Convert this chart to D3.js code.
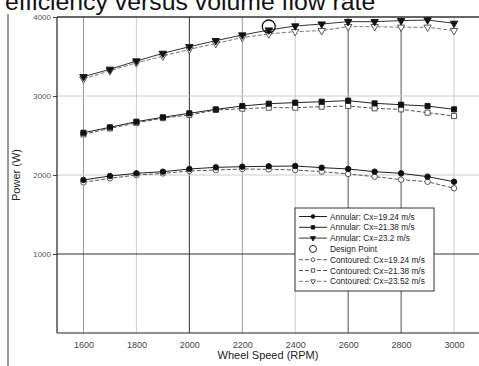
<!DOCTYPE html>
<html>
<head>
<meta charset="utf-8">
<script src="https://cdn.jsdelivr.net/npm/d3@7"></script>
<style>
  body { margin: 0; background: #fff; }
  text { font-family: Arial, "Liberation Sans", sans-serif; }
</style>
</head>
<body>
<script>
"use strict";

// Width and height
let w = 479;
let h = 366;

let speeds = [1600, 1700, 1800, 1900, 2000, 2100, 2200, 2300, 2400, 2500, 2600, 2700, 2800, 2900, 3000];
let annular19 = [1937, 1987, 2021, 2042, 2076, 2097, 2105, 2110, 2114, 2093, 2076, 2042, 2021, 1979, 1915];
let annular21 = [2535, 2604, 2675, 2731, 2781, 2831, 2873, 2903, 2916, 2928, 2941, 2907, 2890, 2873, 2831];
let annular23 = [3244, 3338, 3443, 3540, 3624, 3700, 3772, 3835, 3886, 3911, 3941, 3941, 3954, 3962, 3920];
let contour19 = [1907, 1958, 2000, 2020, 2051, 2063, 2076, 2072, 2063, 2042, 2013, 1979, 1941, 1915, 1832];
let contour21 = [2515, 2590, 2660, 2720, 2759, 2823, 2840, 2852, 2852, 2865, 2873, 2844, 2831, 2789, 2747];
let contour23 = [3215, 3320, 3420, 3505, 3590, 3665, 3740, 3785, 3815, 3827, 3878, 3878, 3870, 3870, 3827];
let designPoint = [2300, 3880];
let xTicks = [1600, 1800, 2000, 2200, 2400, 2600, 2800, 3000];
let yTicks = [1000, 2000, 3000, 4000];

let series = [
    {name: "Annular: Cx=19.24 m/s", values: annular19, marker: "circle", fill: "#111", stroke: "#222", dash: null},
    {name: "Annular: Cx=21.38 m/s", values: annular21, marker: "square", fill: "#111", stroke: "#222", dash: null},
    {name: "Annular: Cx=23.2 m/s", values: annular23, marker: "triangle", fill: "#111", stroke: "#333", dash: null},
    {name: "Contoured: Cx=19.24 m/s", values: contour19, marker: "circle", fill: "#fff", stroke: "#555", dash: "4,2"},
    {name: "Contoured: Cx=21.38 m/s", values: contour21, marker: "square", fill: "#fff", stroke: "#555", dash: "4,2"},
    {name: "Contoured: Cx=23.52 m/s", values: contour23, marker: "triangle", fill: "#fff", stroke: "#777", dash: "4,2"}
];

let svg = d3.select("body").append("svg")
    .attr("width", w)
    .attr("height", h);

// title, cut off at the top of the picture
svg.append("text")
    .attr("x", 5)
    .attr("y", 10)
    .attr("font-size", 24.8)
    .attr("fill", "#111")
    .text("efficiency versus volume flow rate");

// figure border line on the left
svg.append("line")
    .attr("x1", 8).attr("x2", 8)
    .attr("y1", 14).attr("y2", h)
    .attr("stroke", "#333");

let pLeft = 57, pTop = 17, pBottom = 333, pRight = 479;

let x = d3.scaleLinear().domain([1500, 3100]).range([pLeft, 479 + 1.5]);
let y = d3.scaleLinear().domain([0, 4000]).range([pBottom, pTop]);

// grid lines; some come out darker than others in the original
let vGridColor = {1600: "#999", 1800: "#ccc", 2000: "#333", 2200: "#999", 2400: "#ccc", 2600: "#555", 2800: "#555", 3000: "#ccc"};
let hGridColor = {1000: "#333", 2000: "#ccc", 3000: "#ccc", 4000: "#333"};

svg.append("g").selectAll("line")
    .data(xTicks)
    .enter().append("line")
    .attr("x1", d => x(d)).attr("x2", d => x(d))
    .attr("y1", pTop).attr("y2", pBottom)
    .attr("stroke", d => vGridColor[d]);

svg.append("g").selectAll("line")
    .data(yTicks)
    .enter().append("line")
    .attr("x1", pLeft).attr("x2", pRight)
    .attr("y1", d => y(d)).attr("y2", d => y(d))
    .attr("stroke", d => hGridColor[d]);

// axes
let yAxis = svg.append("g")
    .attr("transform", `translate(${pLeft},0)`)
    .call(d3.axisLeft(y).tickValues(yTicks).tickSize(4).tickFormat(d3.format("d")));
yAxis.select(".domain").remove();
yAxis.selectAll("line").attr("stroke", "#444");
yAxis.selectAll("text").attr("font-size", 8).attr("fill", "#555").attr("dx", 1);

let xAxis = svg.append("g")
    .attr("transform", `translate(0,${pBottom})`)
    .call(d3.axisBottom(x).tickValues(xTicks).tickSize(0).tickFormat(d3.format("d")));
xAxis.select(".domain").remove();
xAxis.selectAll("text").attr("font-size", 9).attr("fill", "#444").attr("dy", "1.35em");

// plot frame
svg.append("line").attr("x1", pLeft).attr("x2", pLeft).attr("y1", pTop).attr("y2", pBottom).attr("stroke", "#222").attr("stroke-width", 1.2);
svg.append("line").attr("x1", pLeft).attr("x2", pRight).attr("y1", pBottom).attr("y2", pBottom).attr("stroke", "#222").attr("stroke-width", 1.2);
svg.append("line").attr("x1", pLeft).attr("x2", pRight).attr("y1", pTop).attr("y2", pTop).attr("stroke", "#333");

svg.append("text")
    .attr("x", 268).attr("y", 359)
    .attr("text-anchor", "middle")
    .attr("font-size", 11)
    .attr("fill", "#222")
    .text("Wheel Speed (RPM)");

svg.append("text")
    .attr("transform", "translate(20,175) rotate(-90)")
    .attr("text-anchor", "middle")
    .attr("font-size", 11)
    .attr("fill", "#222")
    .text("Power (W)");

let symbolType = {circle: d3.symbolCircle, square: d3.symbolSquare, triangle: d3.symbolTriangle};
let symbolSize = {circle: 24, square: 26, triangle: 24};

function drawMarker(g, s, cx, cy, scale) {
    let path = d3.symbol().type(symbolType[s.marker]).size(symbolSize[s.marker] * scale)();
    let rot = s.marker === "triangle" ? 180 : 0;
    g.append("path")
        .attr("d", path)
        .attr("transform", `translate(${cx},${cy}) rotate(${rot})`)
        .attr("fill", s.fill)
        .attr("stroke", s.fill === "#fff" ? "#444" : "#111")
        .attr("stroke-width", 0.9);
}

let line = d3.line()
    .x(d => x(d[0]))
    .y(d => y(d[1]));

// contoured series first so the annular ones sit on top
let order = [3, 4, 5, 0, 1, 2];
for (let i of order) {
    let s = series[i];
    let pts = speeds.map((sp, j) => [sp, s.values[j]]);
    let g = svg.append("g");
    g.append("path")
        .datum(pts)
        .attr("d", line)
        .attr("fill", "none")
        .attr("stroke", s.stroke)
        .attr("stroke-width", 1)
        .attr("stroke-dasharray", s.dash);
    for (let p of pts) drawMarker(g, s, x(p[0]), y(p[1]), 1);
}

// design point
svg.append("circle")
    .attr("cx", x(designPoint[0]))
    .attr("cy", y(designPoint[1]))
    .attr("r", 6.5)
    .attr("fill", "none")
    .attr("stroke", "#111")
    .attr("stroke-width", 1.3);

// legend
let lg = svg.append("g").attr("transform", "translate(295,208)");
lg.append("rect")
    .attr("width", 139).attr("height", 83)
    .attr("fill", "#fff")
    .attr("stroke", "#333");

let legendItems = [series[0], series[1], series[2], {name: "Design Point", marker: "design"}, series[3], series[4], series[5]];
legendItems.forEach((s, i) => {
    let yy = 8.5 + i * 10.8;
    if (s.marker === "design") {
        lg.append("circle").attr("cx", 18).attr("cy", yy).attr("r", 3.5)
            .attr("fill", "none").attr("stroke", "#222");
    } else {
        lg.append("line")
            .attr("x1", 4).attr("x2", 32)
            .attr("y1", yy).attr("y2", yy)
            .attr("stroke", s.stroke)
            .attr("stroke-dasharray", s.dash);
        drawMarker(lg, s, 18, yy, 0.45);
    }
    lg.append("text")
        .attr("x", 35).attr("y", yy + 3)
        .attr("font-size", 8.3)
        .attr("fill", "#222")
        .text(s.name);
});
</script>
</body>
</html>
